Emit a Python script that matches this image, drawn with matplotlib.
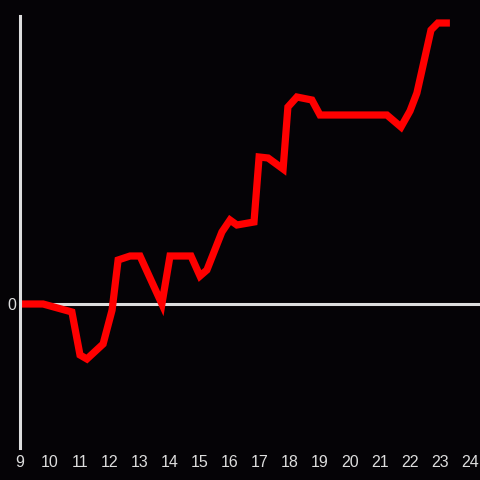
import matplotlib
matplotlib.use("Agg")
import matplotlib.pyplot as plt

# hour of day vs cumulative value
hours = [9.0, 9.77, 10.73, 11.0, 11.23, 11.77, 12.07, 12.27, 12.67, 13.0,
         13.73, 14.0, 14.7, 15.0, 15.23, 15.73, 16.0, 16.23, 16.8, 16.97,
         17.27, 17.77, 17.93, 18.23, 18.73, 19.0, 21.23, 21.7, 22.0, 22.23,
         22.7, 22.93, 23.33]
values = [0, 0, -0.8, -5.1, -5.5, -4.0, -0.6, 4.4, 4.8, 4.8,
          0, 4.8, 4.8, 2.8, 3.4, 7.2, 8.4, 7.9, 8.2, 14.7,
          14.6, 13.5, 19.7, 20.7, 20.4, 18.9, 18.9, 17.7, 19.3, 21.1,
          27.4, 28.1, 28.1]
xticks = list(range(9, 25))

bg = "#050306"
fg = "#dddddd"

fig = plt.figure(figsize=(4.8, 4.8), dpi=100, facecolor=bg)
ax = fig.add_axes([20/480, 32/480, 460/480, 432/480], facecolor=bg)

ax.axhline(0, color=fg, lw=2.2, zorder=1)
ax.plot(hours, values, color="#ff0000", lw=5.2, solid_joinstyle="miter",
        solid_capstyle="butt", zorder=2)

ax.set_xlim(9, 24 + 10/30)
ax.set_ylim(-14.4, 28.8)

for s in ["top", "right", "bottom"]:
    ax.spines[s].set_visible(False)
ax.spines["left"].set_color(fg)
ax.spines["left"].set_linewidth(2.2)

ax.set_xticks(xticks)
ax.set_xticklabels([str(h) for h in xticks])
ax.set_yticks([0])
ax.set_yticklabels(["0"])
ax.tick_params(length=0, colors=fg, labelsize=11.5, labelfontfamily="Liberation Sans")
ax.tick_params(axis="x", pad=5)
ax.tick_params(axis="y", pad=3)

fig.savefig("out.png", dpi=100, facecolor=bg)
